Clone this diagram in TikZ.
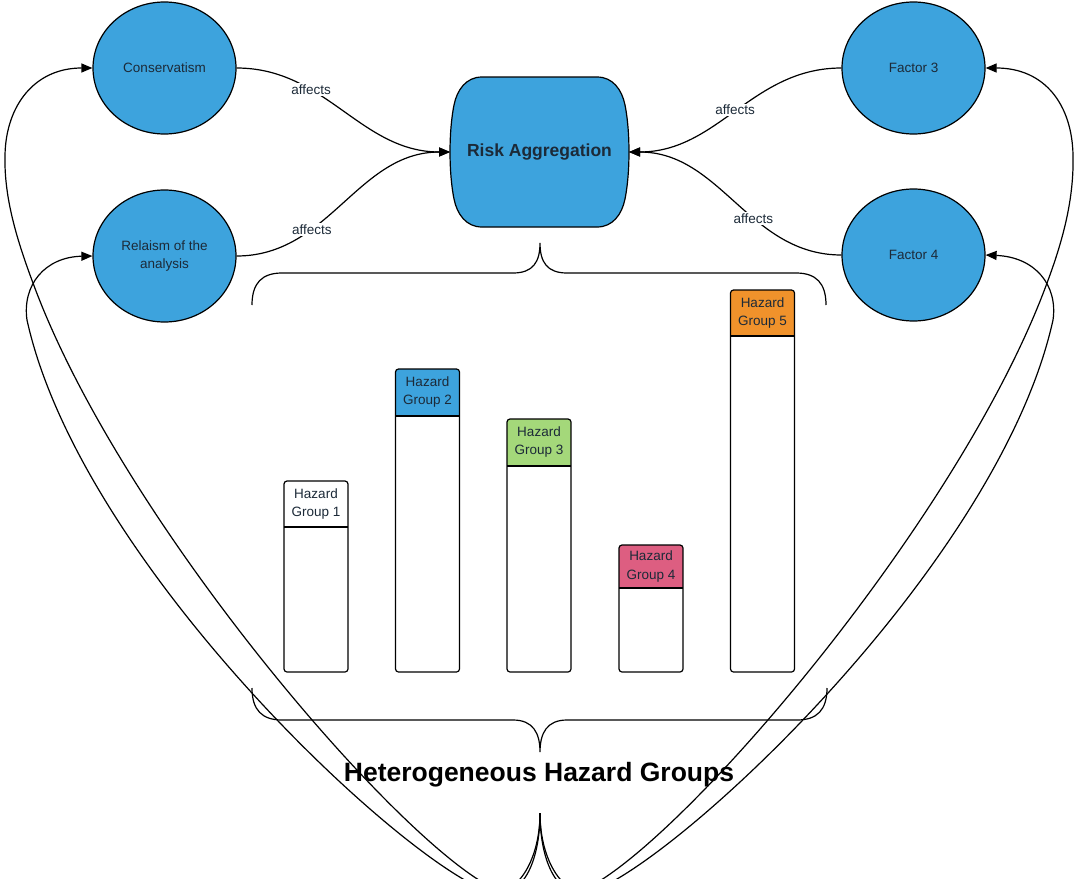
\documentclass[tikz,border=0pt]{standalone}
\usepackage{fontspec}
\setmainfont{Liberation Sans}
\usetikzlibrary{shapes.geometric,arrows.meta}
\definecolor{lblue}{HTML}{3DA3DD}
\definecolor{lgreen}{HTML}{A4D87A}
\definecolor{lpink}{HTML}{DD5E81}
\definecolor{lorange}{HTML}{F0922B}
\definecolor{ink}{HTML}{1C2A38}
\begin{document}
\begin{tikzpicture}[x=1pt,y=-1pt,line width=1.2pt,
  circ/.style={ellipse,draw=black,line width=1.2pt,fill=lblue,minimum width=143pt,minimum height=132pt,inner sep=0pt,font=\fontsize{13.5}{18}\selectfont,text=ink,align=center},
  conn/.style={line width=1.2pt,-{Triangle[length=11pt,width=9pt]}},
  lab/.style={fill=white,inner sep=1.5pt,font=\fontsize{13.5}{16}\selectfont,text=ink},
  hz/.style={font=\fontsize{13.5}{18}\selectfont,text=ink,align=center,inner sep=0pt},
  brace/.style={line width=1.2pt}]
\useasboundingbox (0,0) rectangle (1075,878);
\clip (0,0) rectangle (1075,878);
\fill[white] (0,0) rectangle (1075,878);

% braces
\draw[brace] (252,305) .. controls (252,283) and (262,273) .. (282,273) -- (513,273)
  .. controls (533,273) and (540,262) .. (540,243)
  .. controls (540,262) and (547,273) .. (567,273) -- (796,273)
  .. controls (816,273) and (826,283) .. (826,305);
\draw[brace] (252,688) .. controls (252,710) and (262,720) .. (282,720) -- (513,720)
  .. controls (533,720) and (540,733) .. (540,752)
  .. controls (540,733) and (547,720) .. (567,720) -- (797,720)
  .. controls (817,720) and (827,710) .. (827,688);

% hazard group bars
\foreach \n/\cx/\tp/\dv/\hc in {1/316/481/527/white, 2/427.5/369/416/lblue, 3/539/419/466/lgreen, 4/651/545/588/lpink, 5/762.5/290/336/lorange}{
  \begin{scope}
    \clip[rounded corners=3pt] (\cx-32,\tp) rectangle (\cx+32,672);
    \fill[\hc] (\cx-32,\tp) rectangle (\cx+32,\dv);
  \end{scope}
  \draw[rounded corners=3pt] (\cx-32,\tp) rectangle (\cx+32,672);
  \draw (\cx-32,\dv) -- (\cx+32,\dv);
  \node[hz] (hg\n) at (\cx,{(\tp+\dv)/2}) {Hazard\\Group \n};
}

% circles
\node[circ] (cons) at (164.5,68) {Conservatism};
\node[circ] (rel) at (164.5,256) {Relaism of the\\analysis};
\node[circ] (fac3) at (913.5,68) {Factor 3};
\node[circ] (fac4) at (913.5,255) {Factor 4};

% risk aggregation
\path[draw=black,line width=1.2pt,fill=lblue]
  (482,77) -- (597,77) .. controls (613,77) and (622,90) .. (625,105)
  .. controls (628,120) and (629,138) .. (629,152)
  .. controls (629,166) and (628,184) .. (625,199)
  .. controls (622,214) and (613,227) .. (597,227) -- (482,227)
  .. controls (466,227) and (457,214) .. (454,199)
  .. controls (451,184) and (450,166) .. (450,152)
  .. controls (450,138) and (451,120) .. (454,105)
  .. controls (457,90) and (466,77) .. (482,77) -- cycle;
\node[minimum width=179pt,minimum height=150pt,inner sep=0pt,outer sep=0pt,
  font=\bfseries\fontsize{17.5}{20}\selectfont,text=ink] (ra) at (539.5,152) {Risk Aggregation};

% affects connectors
\draw[conn] (cons.east) to[out=0,in=180] node[lab,pos=0.33] {affects} (ra.west);
\draw[conn] (rel.east) to[out=0,in=180] node[lab,pos=0.33] {affects} (ra.west);
\draw[conn] (fac3.west) to[out=180,in=0] node[lab,pos=0.5] {affects} (ra.east);
\draw[conn] (fac4.west) to[out=180,in=0] node[lab,pos=0.4] {affects} (ra.east);

% heterogeneous hazard groups
\node[font=\bfseries\fontsize{26.5}{30}\selectfont,text=black,inner sep=0pt] (hhg) at (539,775) {Heterogeneous Hazard Groups};
\coordinate (tip) at (540,813);

% long feedback curves
\draw[conn] (tip) .. controls (540,865) and (520,900) .. (495,889)
  .. controls (400,845) and (120,520) .. (33,283)
  .. controls (15,235) and (4,195) .. (5,155)
  .. controls (6,105) and (35,68) .. (cons.west);
\draw[conn] (tip) .. controls (540,862) and (515,900) .. (487,891)
  .. controls (395,856) and (80,560) .. (27,320)
  .. controls (22,285) and (45,257) .. (rel.west);
\draw[conn] (tip) .. controls (540,865) and (560,900) .. (585,889)
  .. controls (680,845) and (960,520) .. (1047,283)
  .. controls (1065,235) and (1074,195) .. (1073,155)
  .. controls (1072,105) and (1045,68) .. (fac3.east);
\draw[conn] (tip) .. controls (540,862) and (565,900) .. (593,891)
  .. controls (685,856) and (1000,560) .. (1053,320)
  .. controls (1058,285) and (1035,257) .. (fac4.east);
\end{tikzpicture}
\end{document}
